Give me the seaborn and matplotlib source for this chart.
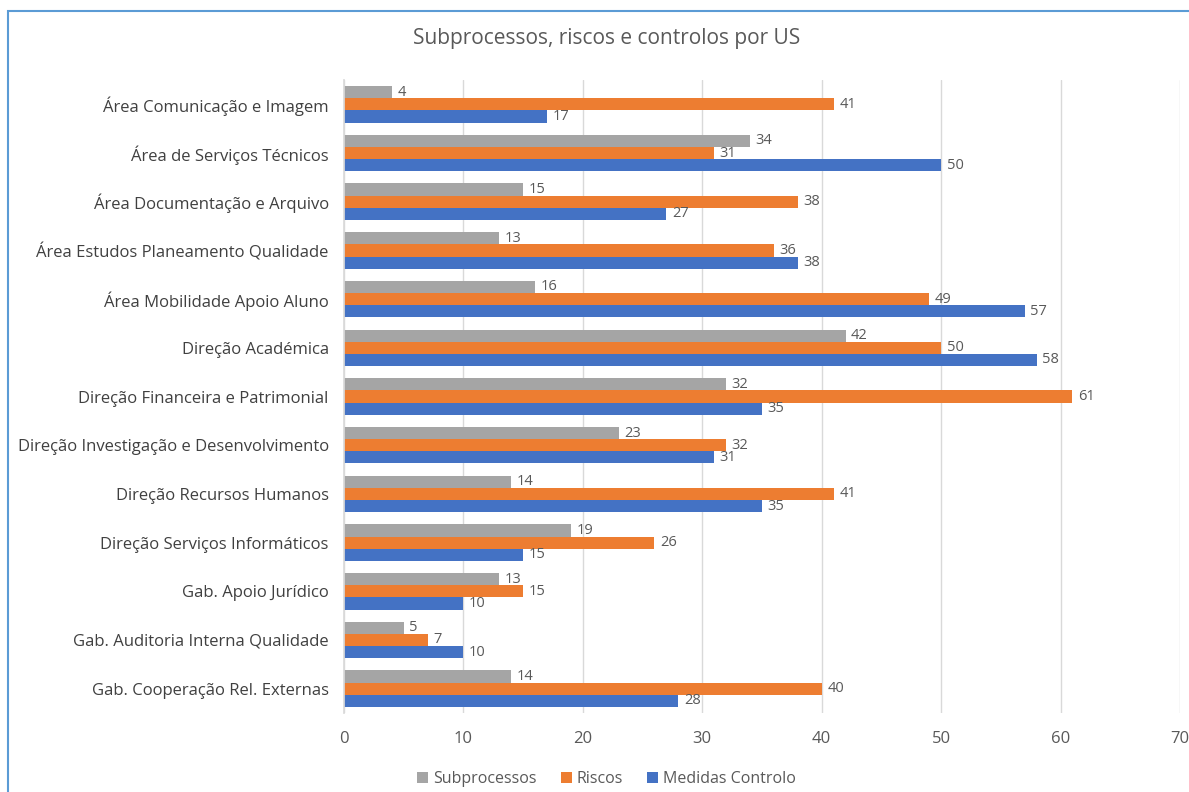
import matplotlib
matplotlib.use("Agg")
import matplotlib.pyplot as plt
import seaborn as sns
import pandas as pd
from matplotlib.patches import Rectangle

# Data
units = [
    "Área Comunicação e Imagem",
    "Área de Serviços Técnicos",
    "Área Documentação e Arquivo",
    "Área Estudos Planeamento Qualidade",
    "Área Mobilidade Apoio Aluno",
    "Direção Académica",
    "Direção Financeira e Patrimonial",
    "Direção Investigação e Desenvolvimento",
    "Direção Recursos Humanos",
    "Direção Serviços Informáticos",
    "Gab. Apoio Jurídico",
    "Gab. Auditoria Interna Qualidade",
    "Gab. Cooperação Rel. Externas",
]
subprocessos = [4, 34, 15, 13, 16, 42, 32, 23, 14, 19, 13, 5, 14]
riscos = [41, 31, 38, 36, 49, 50, 61, 32, 41, 26, 15, 7, 40]
medidas = [17, 50, 27, 38, 57, 58, 35, 31, 35, 15, 10, 10, 28]
series_names = ["Subprocessos", "Riscos", "Medidas Controlo"]
colors = ["#A5A5A5", "#ED7D31", "#4472C4"]

df = pd.DataFrame({
    "unit": units * 3,
    "serie": [series_names[0]] * 13 + [series_names[1]] * 13 + [series_names[2]] * 13,
    "valor": subprocessos + riscos + medidas,
})

sns.set_theme(style="white")
plt.rcParams["font.family"] = ["Open Sans", "DejaVu Sans"]

fig = plt.figure(figsize=(11.89, 7.92), dpi=100)
ax = fig.add_axes([0.2893, 0.0997, 0.7031, 0.7993])

sns.barplot(data=df, y="unit", x="valor", hue="serie", order=units,
            hue_order=series_names, palette=colors, orient="h",
            width=0.75, gap=0, saturation=1, edgecolor="none", ax=ax)

for cont in ax.containers:
    ax.bar_label(cont, padding=4, fontsize=10.5, color="#595959")

ax.set_xlim(0, 70)
ax.set_xticks(range(0, 71, 10))
ax.set_xlabel("")
ax.set_ylabel("")
ax.xaxis.grid(True, color="#D9D9D9", linewidth=1)
ax.set_axisbelow(True)
for s in ["top", "right", "bottom"]:
    ax.spines[s].set_visible(False)
ax.spines["left"].set_color("#D9D9D9")
ax.tick_params(axis="x", labelsize=12, colors="#595959", length=0, pad=13)
ax.tick_params(axis="y", labelsize=12, colors="#404040", length=0, pad=11)

ax.legend(loc="center", bbox_to_anchor=(0.51, 0.016),
          bbox_transform=fig.transFigure, ncol=3,
          frameon=False, fontsize=11.5, handlelength=0.7, handleheight=0.7,
          handletextpad=0.3, columnspacing=1.5, labelcolor="#595959")

fig.text(0.51, 0.952, "Subprocessos, riscos e controlos por US",
         ha="center", va="center", fontsize=15, color="#595959")

# outer chart frame
fig.patches.append(Rectangle((8 / 1189, -0.1), 1.2, 1 - 11 / 792 + 0.1,
                             transform=fig.transFigure, fill=False,
                             edgecolor="#5B9BD5", linewidth=1.5))

fig.savefig("out.png", dpi=100)
